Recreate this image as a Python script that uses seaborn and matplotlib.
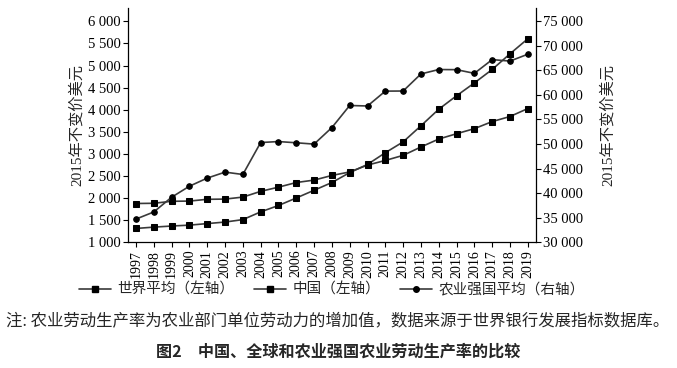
import pandas as pd
import matplotlib
matplotlib.use("Agg")
import matplotlib.pyplot as plt
import seaborn as sns
from matplotlib.ticker import FuncFormatter, MultipleLocator
from matplotlib.lines import Line2D

# data
years = list(range(1997, 2020))
world = [1875, 1880, 1925, 1930, 1970, 1975, 2020, 2150, 2245, 2350, 2405, 2510,
         2590, 2745, 2850, 2965, 3155, 3335, 3455, 3570, 3730, 3845, 4025]
china = [1310, 1340, 1365, 1385, 1420, 1455, 1510, 1685, 1830, 2000, 2175, 2350,
         2575, 2760, 3025, 3270, 3635, 4010, 4315, 4605, 4910, 5265, 5605]
ag_powers = [34700, 36150, 39150, 41400, 43050, 44270, 43790, 50300, 50500, 50250,
             49980, 53350, 57850, 57750, 60780, 60800, 64280, 65180, 65150, 64400,
             67200, 66900, 68300]

labels = ["世界平均（左轴）", "中国（左轴）", "农业强国平均（右轴）"]
ylabel = "2015年不变价美元"
note = "注: 农业劳动生产率为农业部门单位劳动力的增加值，数据来源于世界银行发展指标数据库。"
title = "图2　中国、全球和农业强国农业劳动生产率的比较"

df = pd.DataFrame({"year": years, "world": world, "china": china, "ag": ag_powers})

sns.set_style("ticks")
serif = ["Liberation Serif", "Noto Sans CJK SC"]
cjk = ["Noto Sans CJK SC", "DejaVu Sans"]
plt.rcParams["font.family"] = serif

line_c = "#3a3a3a"

fig = plt.figure(figsize=(6.77, 3.68), dpi=100)
ax = fig.add_axes([0.189, 0.342, 0.603, 0.636])
ax2 = ax.twinx()

kw = dict(color=line_c, linewidth=1.2, markeredgecolor="black",
          markerfacecolor="black")
sns.lineplot(data=df, x="year", y="world", ax=ax, marker="s", markersize=4.5, **kw)
sns.lineplot(data=df, x="year", y="china", ax=ax, marker="s", markersize=4.5, **kw)
sns.lineplot(data=df, x="year", y="ag", ax=ax2, marker="o", markersize=4, **kw)

ax.set_xlim(1996.55, 2019.47)
ax.set_ylim(1000, 6300)
ax2.set_ylim(30000, 77700)

ax.yaxis.set_major_locator(MultipleLocator(500))
ax2.yaxis.set_major_locator(MultipleLocator(5000))
fmt = FuncFormatter(lambda v, p: f"{v:,.0f}".replace(",", " ") if v <= 6000 else "")
fmt2 = FuncFormatter(lambda v, p: f"{v:,.0f}".replace(",", " ") if v <= 75000 else "")
ax.yaxis.set_major_formatter(fmt)
ax2.yaxis.set_major_formatter(fmt2)

ax.set_xticks(years)
ax.set_xticklabels([str(y) for y in years], rotation=90)

for a in (ax, ax2):
    a.spines["top"].set_visible(False)
    for s in a.spines.values():
        s.set_color("black")
        s.set_linewidth(0.9)
    a.tick_params(colors="black", labelsize=10.5, length=3.5, width=0.8, pad=1.5)
ax.tick_params(axis="x", labelsize=10, pad=2)
ax.spines["right"].set_visible(False)
ax2.spines["left"].set_visible(False)
ax2.spines["bottom"].set_visible(False)

ax.set_xlabel("")
ax.set_ylabel(ylabel, fontsize=11, labelpad=3)
ax2.set_ylabel(ylabel, fontsize=11, labelpad=12)

handles = [Line2D([], [], marker=m, markersize=4.5 if m == "s" else 4, **kw)
           for m in ("s", "s", "o")]
fig.legend(handles, labels, loc="center", bbox_to_anchor=(0.49, 0.212), ncol=3,
           frameon=False, handlelength=2.2, handletextpad=0.4, columnspacing=1.4,
           prop={"family": cjk, "size": 10.5})

fig.text(0.499, 0.125, note, ha="center", va="center", fontsize=11.8, family=cjk)
fig.text(0.5, 0.045, title, ha="center", va="center", fontsize=11.6,
         fontweight="bold", family=cjk)

fig.savefig("out.png", dpi=100)
